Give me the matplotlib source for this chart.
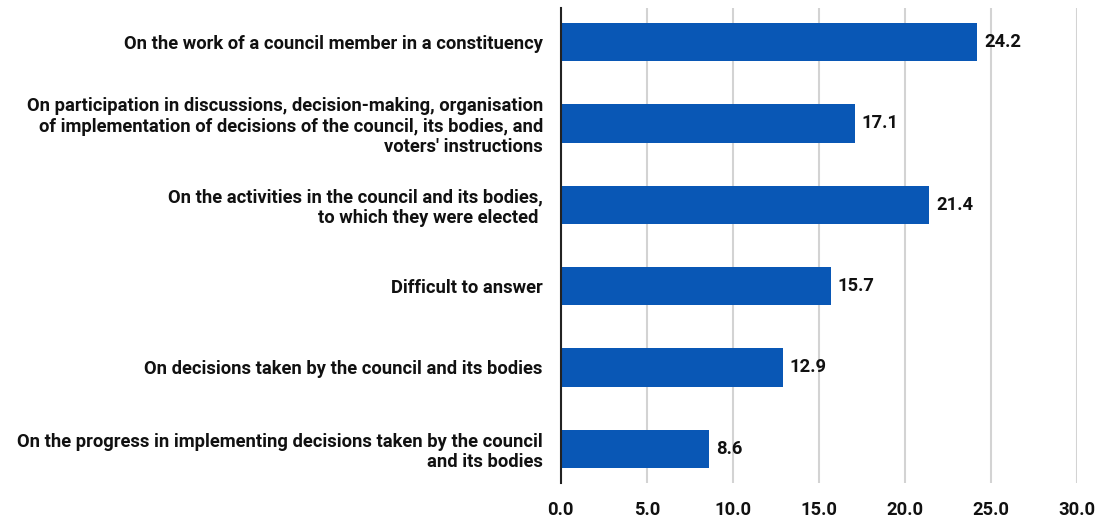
import matplotlib
matplotlib.use("Agg")
import matplotlib.pyplot as plt

plt.rcParams['font.family'] = ['Roboto', 'DejaVu Sans']

categories = [
    "On the work of a council member in a constituency",
    "On participation in discussions, decision-making, organisation\n"
    "of implementation of decisions of the council, its bodies, and\n"
    "voters' instructions",
    "On the activities in the council and its bodies,\n"
    "to which they were elected ",
    "Difficult to answer",
    "On decisions taken by the council and its bodies",
    "On the progress in implementing decisions taken by the council\n"
    "and its bodies",
]
values = [24.2, 17.1, 21.4, 15.7, 12.9, 8.6]
x_ticks = [0, 5, 10, 15, 20, 25, 30]

bar_color = "#0957b5"
fs = 13.2
fw = "bold"

fig = plt.figure(figsize=(11.04, 5.17), dpi=100)
ax = fig.add_axes([0.508, 0.066, 0.4675, 0.9185])

pos = list(range(len(categories)))
ax.barh(pos, values, height=0.47, color=bar_color, zorder=3)

for p, v in zip(pos, values):
    ax.text(v + 0.4, p, f"{v:.1f}", va="center", ha="left",
            fontsize=fs, fontweight=fw, color="#111111", zorder=4)

ax.set_xlim(0, 30)
ax.set_ylim(len(categories) - 0.58, -0.42)
ax.set_xticks(x_ticks)
ax.set_xticklabels([f"{t:.1f}" for t in x_ticks], fontsize=fs,
                   fontweight=fw, color="#111111")
ax.set_yticks(pos)
ax.set_yticklabels(categories, fontsize=fs, fontweight=fw,
                   color="#111111", linespacing=1.15)
for lbl in ax.get_yticklabels():
    lbl.set_horizontalalignment("right")
    lbl.set_multialignment("right")

ax.tick_params(axis="both", length=0)
ax.tick_params(axis="x", pad=13)
ax.tick_params(axis="y", pad=13)

ax.grid(axis="x", color="#d3d3d3", linewidth=1.5, zorder=0)
for side in ("top", "right", "bottom"):
    ax.spines[side].set_visible(False)
ax.spines["left"].set_color("#222222")
ax.spines["left"].set_linewidth(1.5)
ax.spines["left"].set_zorder(5)

fig.savefig("out.png", dpi=100, facecolor="white")
